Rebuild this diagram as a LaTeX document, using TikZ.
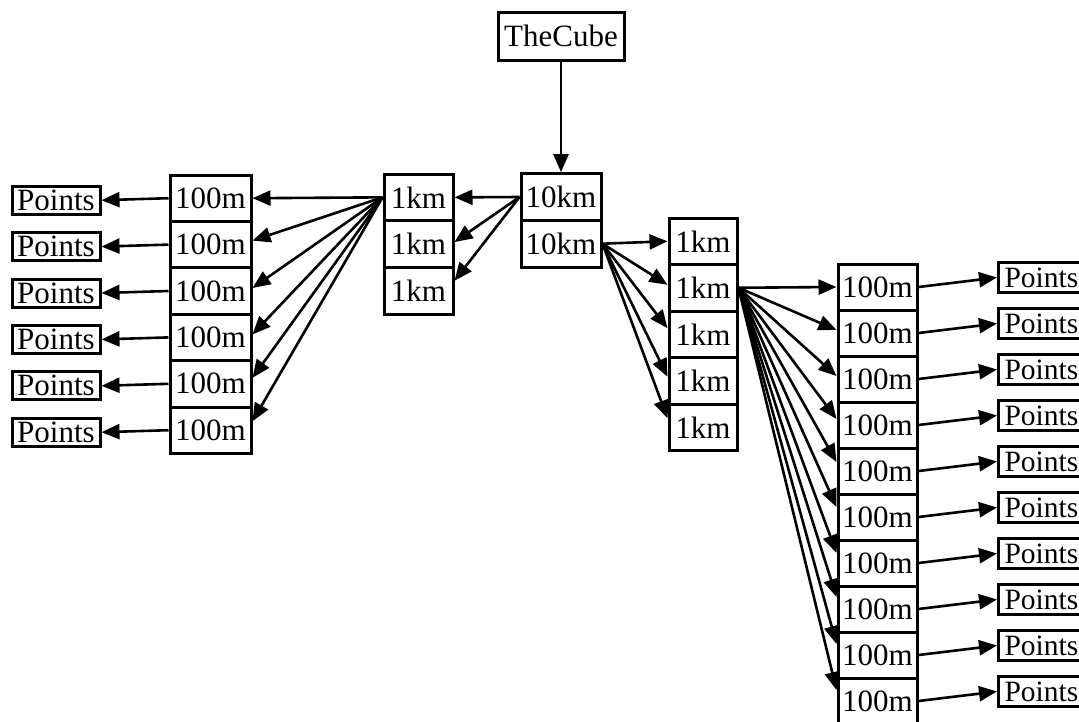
\documentclass[tikz,border=0pt]{standalone}
\usepackage{fontspec}
\setmainfont{Liberation Serif}
\usetikzlibrary{arrows.meta}
\begin{document}
\begin{tikzpicture}[x=1pt,y=-1pt,
  cellbox/.style={draw=black, line width=3pt, inner sep=0pt, font=\fontsize{31}{32}\selectfont},
  arr/.style={line width=2.6pt, -{Triangle[length=18pt,width=15pt]}}]
\useasboundingbox (0,0) rectangle (1079,721);
% top
\node[cellbox, minimum width=126pt, minimum height=48pt] (cube) at (561,36) {TheCube};
\node[cellbox, minimum width=80pt, minimum height=46.7pt] (tka) at (561,197) {10km};
\node[cellbox, minimum width=80pt, minimum height=46.7pt] (tkb) at (561,243.7) {10km};
\draw[arr] (cube.south) -- (tka.north);
% left 1km stack
\foreach \i in {1,2,3}
  \node[cellbox, minimum width=69pt, minimum height=46.7pt] (L1k\i) at (418.5,{197.35+46.7*(\i-1)}) {1km};
% left 100m stack and Points
\foreach \i in {1,...,6} {
  \node[cellbox, minimum width=81pt, minimum height=46.4pt] (Lh\i) at (210.5,{198.2+46.4*(\i-1)}) {100m};
  \node[cellbox, minimum width=88pt, minimum height=28pt] (Lp\i) at (56,{200.2+46.4*(\i-1)}) {Points};
  \draw[arr] (Lh\i.west) -- (Lp\i.east);
}
% right 1km stack
\foreach \i in {1,...,5}
  \node[cellbox, minimum width=68pt, minimum height=46.5pt] (R1k\i) at (703,{241.25+46.5*(\i-1)}) {1km};
% right 100m stack and Points
\foreach \i in {1,...,10} {
  \node[cellbox, minimum width=79pt, minimum height=46pt] (Rh\i) at (877.5,{287+46*(\i-1)}) {100m};
  \node[cellbox, font=\fontsize{29.5}{31}\selectfont, anchor=west, inner xsep=6pt, minimum height=30pt] (Rp\i) at (997,{277.5+46*(\i-1)}) {Points};
  \draw[arr] (Rh\i.east) -- (Rp\i.west);
}
% connectors 10km -> 1km (left)
\foreach \i/\o in {1/0,2/2,3/10}
  \draw[arr] (tka.west) -- ([yshift=\o pt]L1k\i.east);
% 1km -> 100m (left)
\foreach \i/\o in {1/0,2/4,3/3,4/3,5/6,6/9}
  \draw[arr] (L1k1.west) -- ([yshift=\o pt]Lh\i.east);
% 10km -> 1km (right)
\foreach \i/\o in {1/0,2/3,3/6,4/4,5/9}
  \draw[arr] (tkb.east) -- ([yshift=\o pt]R1k\i.west);
% 1km -> 100m (right)
\foreach \i/\o in {1/0,2/3,3/3,4/6,5/9,6/10,7/10,8/12,9/11,10/11}
  \draw[arr] (R1k2.east) -- ([yshift=\o pt]Rh\i.west);
\end{tikzpicture}
\end{document}
